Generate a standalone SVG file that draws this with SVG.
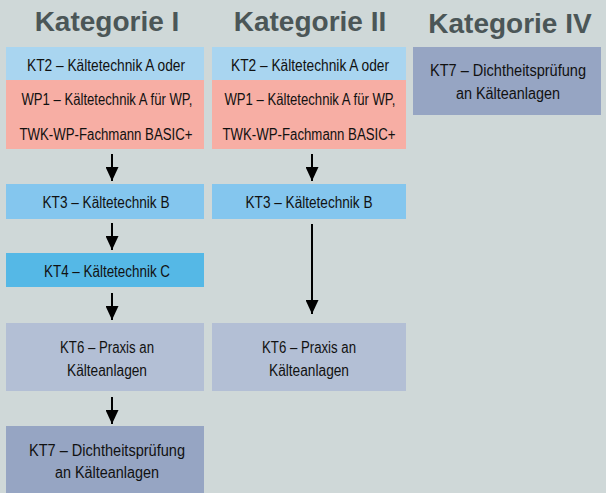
<svg xmlns="http://www.w3.org/2000/svg" width="606" height="493" viewBox="0 0 606 493">
<style>
.h{font-family:"Liberation Sans",Arial,sans-serif;font-weight:bold;font-size:28px;fill:#4b5657;text-anchor:middle}
.t{font-family:"Liberation Sans",Arial,sans-serif;font-size:16px;fill:#111;text-anchor:middle}
.c{stroke:#000;stroke-width:2;fill:none}
</style>
<defs>
<marker id="ah" viewBox="0 0 14 13" refX="14" refY="6.5" markerWidth="7" markerHeight="6.5" orient="auto" markerUnits="strokeWidth">
<path d="M0,0 L14,6.5 L0,13 Z" fill="#000"/>
</marker>
</defs>
<rect width="606" height="493" fill="#cfd8d8"/>
<g id="headers">
<text class="h" x="107" y="31">Kategorie I</text>
<text class="h" x="310" y="31">Kategorie II</text>
<text class="h" x="510" y="33">Kategorie IV</text>
</g>
<g id="c1-kt2"><rect x="6" y="47" width="198" height="33" fill="#a9d5f0"/><text class="t" x="106" y="71" textLength="158" lengthAdjust="spacingAndGlyphs">KT2 – Kältetechnik A oder</text></g>
<g id="c1-wp1"><rect x="6" y="80" width="198" height="69" fill="#f7aea4"/><text class="t" x="107" y="105" textLength="171" lengthAdjust="spacingAndGlyphs">WP1 – Kältetechnik A für WP,</text><text class="t" x="106" y="140" textLength="173" lengthAdjust="spacingAndGlyphs">TWK-WP-Fachmann BASIC+</text></g>
<g id="c1-kt3"><rect x="6" y="184" width="198" height="35" fill="#84c6ee"/><text class="t" x="106" y="208" textLength="127" lengthAdjust="spacingAndGlyphs">KT3 – Kältetechnik B</text></g>
<g id="c1-kt4"><rect x="6" y="253" width="198" height="34" fill="#55b8e6"/><text class="t" x="107" y="277" textLength="126" lengthAdjust="spacingAndGlyphs">KT4 – Kältetechnik C</text></g>
<g id="c1-kt6"><rect x="6" y="323" width="198" height="68" fill="#b3bfd5"/><text class="t" x="107" y="353" textLength="94" lengthAdjust="spacingAndGlyphs">KT6 – Praxis an</text><text class="t" x="107" y="376" textLength="80" lengthAdjust="spacingAndGlyphs">Kälteanlagen</text></g>
<g id="c1-kt7"><rect x="6" y="426" width="198" height="67" fill="#96a5c3"/><text class="t" x="107" y="456" textLength="156" lengthAdjust="spacingAndGlyphs">KT7 – Dichtheitsprüfung</text><text class="t" x="107" y="478" textLength="104" lengthAdjust="spacingAndGlyphs">an Kälteanlagen</text></g>
<g id="c2-kt2"><rect x="212" y="47" width="194" height="33" fill="#a9d5f0"/><text class="t" x="310" y="71" textLength="158" lengthAdjust="spacingAndGlyphs">KT2 – Kältetechnik A oder</text></g>
<g id="c2-wp1"><rect x="212" y="80" width="194" height="69" fill="#f7aea4"/><text class="t" x="310" y="105" textLength="171" lengthAdjust="spacingAndGlyphs">WP1 – Kältetechnik A für WP,</text><text class="t" x="309" y="140" textLength="173" lengthAdjust="spacingAndGlyphs">TWK-WP-Fachmann BASIC+</text></g>
<g id="c2-kt3"><rect x="212" y="184" width="194" height="35" fill="#84c6ee"/><text class="t" x="309" y="208" textLength="127" lengthAdjust="spacingAndGlyphs">KT3 – Kältetechnik B</text></g>
<g id="c2-kt6"><rect x="212" y="323" width="194" height="68" fill="#b3bfd5"/><text class="t" x="309" y="353" textLength="94" lengthAdjust="spacingAndGlyphs">KT6 – Praxis an</text><text class="t" x="309" y="376" textLength="80" lengthAdjust="spacingAndGlyphs">Kälteanlagen</text></g>
<g id="c3-kt7"><rect x="413" y="47" width="188" height="68" fill="#96a5c3"/><text class="t" x="508" y="76" textLength="156" lengthAdjust="spacingAndGlyphs">KT7 – Dichtheitsprüfung</text><text class="t" x="508" y="99" textLength="104" lengthAdjust="spacingAndGlyphs">an Kälteanlagen</text></g>
<g id="connectors">
<line class="c" x1="112" y1="154" x2="112" y2="181" marker-end="url(#ah)"/>
<line class="c" x1="112" y1="223" x2="112" y2="250" marker-end="url(#ah)"/>
<line class="c" x1="112" y1="293" x2="112" y2="320" marker-end="url(#ah)"/>
<line class="c" x1="112" y1="397" x2="112" y2="424" marker-end="url(#ah)"/>
<line class="c" x1="312" y1="154" x2="312" y2="181" marker-end="url(#ah)"/>
<line class="c" x1="312" y1="224" x2="312" y2="314" marker-end="url(#ah)"/>
</g>
</svg>
